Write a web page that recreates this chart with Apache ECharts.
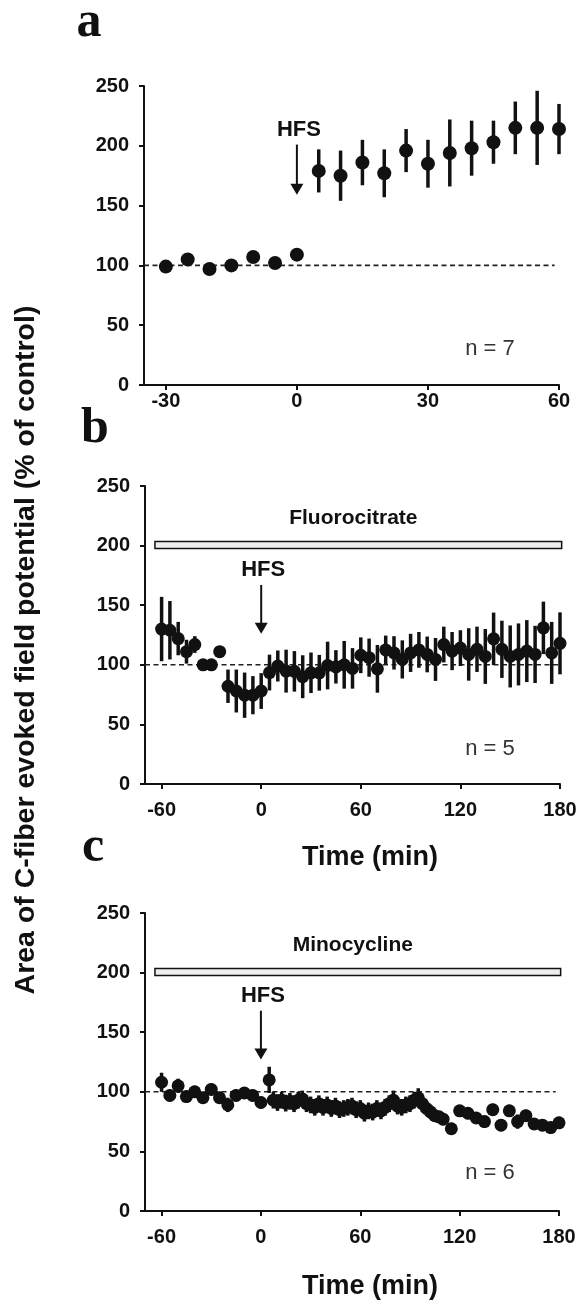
<!DOCTYPE html>
<html>
<head>
<meta charset="utf-8">
<script src="https://cdn.jsdelivr.net/npm/echarts@6/dist/echarts.min.js"></script>
<style>
  html, body { margin: 0; background: #fff; }
  #chart { width: 580px; height: 1302px; }
</style>
</head>
<body>
<div id="chart"></div>
<script>
// panel a: control, HFS at t = 0
var timeA = [-30, -25, -20, -15, -10, -5, 0, 5, 10, 15, 20, 25, 30, 35, 40, 45, 50, 55, 60];
var meanA = [99, 105, 97, 100, 107, 102, 109, 179, 175, 186, 177, 196, 185, 194, 198, 203, 215, 215, 214];
var semA  = [3, 3, 3, 3, 3, 3, 3, 18, 21, 19, 20, 18, 20, 28, 23, 18, 22, 31, 21];

// panel b: fluorocitrate
var timeB = [-60, -55, -50, -45, -40, -35, -30, -25, -20, -15, -10, -5, 0,
             5, 10, 15, 20, 25, 30, 35, 40, 45, 50, 55, 60,
             65, 70, 75, 80, 85, 90, 95, 100, 105, 110, 115, 120,
             125, 130, 135, 140, 145, 150, 155, 160, 165, 170, 175, 180];
var meanB = [130, 129, 122, 111, 117, 100, 100, 111, 82, 78, 74.5, 74.5, 78,
             93.5, 99, 94.7, 94.5, 90, 93.3, 93.3, 99.4, 98.3, 100, 97, 108,
             106, 96.6, 112.5, 110, 104.5, 110, 112.5, 108.7, 104.5, 117, 111.5, 114,
             108.7, 113, 107, 121.8, 113, 107, 108.7, 111.5, 108.7, 131, 110, 118];
var semB  = [27, 24.5, 14, 10, 7, 3, 3, 3, 14, 18, 19, 16, 15,
             15, 13, 18, 17, 18, 17, 15, 20, 14, 20, 17, 15,
             16, 20, 12, 14, 16, 16, 15, 15, 18, 15, 16, 15,
             22, 19, 23, 22, 24, 26, 26, 26, 24, 22, 26, 26];

// panel c: minocycline
var timeC = [-60, -55, -50, -45, -40, -35, -30, -25, -20, -15, -10, -5, 0, 5,
             7.5, 10, 12.5, 15, 17.5, 20, 22.5, 25, 27.5, 30,
             32.5, 35, 37.5, 40, 42.5, 45, 47.5, 50, 52.5, 55,
             57.5, 60, 62.5, 65, 67.5, 70, 72.5, 75, 77.5, 80,
             82.5, 85, 87.5, 90, 92.5, 95, 97.5, 100, 102.5, 105,
             107.5, 110,
             115, 120, 125, 130, 135, 140, 145, 150, 155, 160, 165, 170, 175, 180];
var meanC = [108, 97, 105, 96, 100, 95, 102, 95, 89, 97, 99, 97, 91, 110,
             93, 91, 93, 90.5, 92, 90, 93, 94, 90, 89,
             87, 90, 87, 89, 86, 88, 85, 86, 87, 88,
             85, 86, 82, 84, 83, 86, 84, 87, 90, 93,
             88, 87, 89, 90, 93, 95, 90, 86, 83, 80,
             79, 77,
             69, 84, 82, 78, 75, 85, 72, 84, 75, 80, 73, 72, 70, 74];
var semC  = [8, 5, 6, 5, 5, 5, 5, 5, 6, 5, 5, 5, 5, 11,
             7, 7, 7, 7, 7, 7, 7, 7, 7, 7,
             7, 7, 7, 7, 7, 7, 7, 7, 7, 7,
             7, 7, 7, 7, 7, 7, 7, 7, 7, 8,
             7, 7, 7, 7, 7, 8, 7, 6, 6, 5,
             5, 5,
             5, 5, 5, 5, 5, 5, 5, 5, 6, 5, 5, 5, 5, 5];

var xTicksA = [-30, 0, 30, 60];
var xTicksBC = [-60, 0, 60, 120, 180];
var baseline = 100;
// hfs arrow: [time, from value, to value]
var hfsA = [0, 201, 159];
var hfsB = [0, 167, 126];
var hfsC = [0, 168, 127];
// drug application bar: [start, end, low, high]
var drugB = [-64, 181, 197.5, 203.5];
var drugC = [-64, 181, 197.5, 203.5];

var FONT = 'Liberation Sans';
var INK = '#111';

var grids = [
    { left: 144, top: 86, width: 415, height: 299 },
    { left: 145, top: 486, width: 415, height: 298 },
    { left: 145, top: 913, width: 414, height: 298 }
];

function xAxis(i, min, max, ticks, margin) {
    return {
        gridIndex: i, type: 'value', min: min, max: max,
        axisLine: { onZero: false, lineStyle: { color: INK, width: 2 } },
        axisTick: { customValues: ticks, length: 5, lineStyle: { color: INK, width: 2 } },
        axisLabel: { customValues: ticks, color: INK, fontSize: 20, fontWeight: 'bold', fontFamily: FONT, margin: margin },
        splitLine: { show: false }
    };
}

function yAxis(i) {
    return {
        gridIndex: i, type: 'value', min: 0, max: 250, interval: 50,
        axisLine: { show: true, onZero: false, lineStyle: { color: INK, width: 2 } },
        axisTick: { show: true, length: 5, lineStyle: { color: INK, width: 2 } },
        axisLabel: { color: INK, fontSize: 20, fontWeight: 'bold', fontFamily: FONT, margin: 15 },
        splitLine: { show: false }
    };
}

function errorBars(i, t, m, s) {
    return {
        type: 'custom', xAxisIndex: i, yAxisIndex: i, z: 2,
        data: t.map(function (v, k) { return [v, m[k] - s[k], m[k] + s[k]]; }),
        encode: { x: 0, y: [1, 2] },
        renderItem: function (params, api) {
            var lo = api.coord([api.value(0), api.value(1)]);
            var hi = api.coord([api.value(0), api.value(2)]);
            return {
                type: 'line',
                shape: { x1: lo[0], y1: lo[1], x2: hi[0], y2: hi[1] },
                style: { stroke: INK, lineWidth: 3.5 }
            };
        }
    };
}

function points(i, t, m, size) {
    return {
        type: 'scatter', xAxisIndex: i, yAxisIndex: i, z: 3,
        symbolSize: size,
        itemStyle: { color: INK, opacity: 1 },
        data: t.map(function (v, k) { return [v, m[k]]; })
    };
}

function refLine(i, from, to) {
    return {
        type: 'line', xAxisIndex: i, yAxisIndex: i, z: 1,
        symbol: 'none', silent: true,
        lineStyle: { color: '#222', width: 1.6, type: [5, 3.5] },
        data: [[from, baseline], [to, baseline]]
    };
}

function arrow(i, a) {
    return {
        type: 'custom', xAxisIndex: i, yAxisIndex: i, z: 4,
        data: [a],
        renderItem: function (params, api) {
            var top = api.coord([api.value(0), api.value(1)]);
            var tip = api.coord([api.value(0), api.value(2)]);
            return {
                type: 'group',
                children: [
                    { type: 'line', shape: { x1: top[0], y1: top[1], x2: tip[0], y2: tip[1] - 8 },
                      style: { stroke: INK, lineWidth: 2 } },
                    { type: 'polygon', shape: { points: [[tip[0] - 6.5, tip[1] - 11], [tip[0] + 6.5, tip[1] - 11], [tip[0], tip[1]]] },
                      style: { fill: INK } },
                    { type: 'text', x: top[0] + 2, y: top[1] - 15,
                      style: { text: 'HFS', fontSize: 22, fontWeight: 'bold', fontFamily: FONT, fill: INK,
                               align: 'center', verticalAlign: 'middle' } }
                ]
            };
        }
    };
}

function drugBar(i, d, name) {
    return {
        type: 'custom', xAxisIndex: i, yAxisIndex: i, z: 4,
        data: [d],
        renderItem: function (params, api) {
            var p1 = api.coord([api.value(0), api.value(3)]);
            var p2 = api.coord([api.value(1), api.value(2)]);
            return {
                type: 'group',
                children: [
                    { type: 'rect', shape: { x: p1[0], y: p1[1], width: p2[0] - p1[0], height: p2[1] - p1[1] },
                      style: { fill: '#eeeeee', stroke: INK, lineWidth: 1.5 } },
                    { type: 'text', x: (p1[0] + p2[0]) / 2 - 5, y: p1[1] - 23,
                      style: { text: name, fontSize: 21, fontWeight: 'bold', fontFamily: FONT, fill: INK,
                               align: 'center', verticalAlign: 'middle' } }
                ]
            };
        }
    };
}

function label(text, x, y, opts) {
    var st = { text: text, fill: INK, fontFamily: FONT, fontSize: 22, align: 'center', verticalAlign: 'middle' };
    for (var k in opts) st[k] = opts[k];
    return { type: 'text', x: x, y: y, style: st };
}

var chart = echarts.init(document.getElementById('chart'));

chart.setOption({
    animation: false,
    backgroundColor: '#fff',
    grid: grids.map(function (g) {
        return { left: g.left, top: g.top, width: g.width, height: g.height, outerBoundsMode: 'none' };
    }),
    xAxis: [
        xAxis(0, -35, 60, xTicksA, 6),
        xAxis(1, -70, 180, xTicksBC, 16),
        xAxis(2, -70, 180, xTicksBC, 16)
    ],
    yAxis: [yAxis(0), yAxis(1), yAxis(2)],
    series: [
        refLine(0, -35, 59),
        errorBars(0, timeA, meanA, semA),
        points(0, timeA, meanA, 14),
        arrow(0, hfsA),

        refLine(1, -70, 180),
        errorBars(1, timeB, meanB, semB),
        points(1, timeB, meanB, 13),
        arrow(1, hfsB),
        drugBar(1, drugB, 'Fluorocitrate'),

        refLine(2, -70, 178),
        errorBars(2, timeC, meanC, semC),
        points(2, timeC, meanC, 13),
        arrow(2, hfsC),
        drugBar(2, drugC, 'Minocycline')
    ],
    graphic: [
        label('a', 89, 23, { fontFamily: 'Liberation Serif', fontWeight: 'bold', fontSize: 50 }),
        label('b', 95, 429, { fontFamily: 'Liberation Serif', fontWeight: 'bold', fontSize: 50 }),
        label('c', 93, 848, { fontFamily: 'Liberation Serif', fontWeight: 'bold', fontSize: 50 }),
        label('n = 7', 490, 349, { fill: '#333' }),
        label('n = 5', 490, 749, { fill: '#333' }),
        label('n = 6', 490, 1173, { fill: '#333' }),
        label('Time (min)', 370, 858, { fontWeight: 'bold', fontSize: 27 }),
        label('Time (min)', 370, 1287, { fontWeight: 'bold', fontSize: 27 }),
        {
            type: 'text', x: 26, y: 650, rotation: Math.PI / 2,
            style: { text: 'Area of C-fiber evoked field potential (% of control)', fill: INK,
                     fontFamily: FONT, fontWeight: 'bold', fontSize: 28.5, align: 'center', verticalAlign: 'middle' }
        }
    ]
});
</script>
</body>
</html>
